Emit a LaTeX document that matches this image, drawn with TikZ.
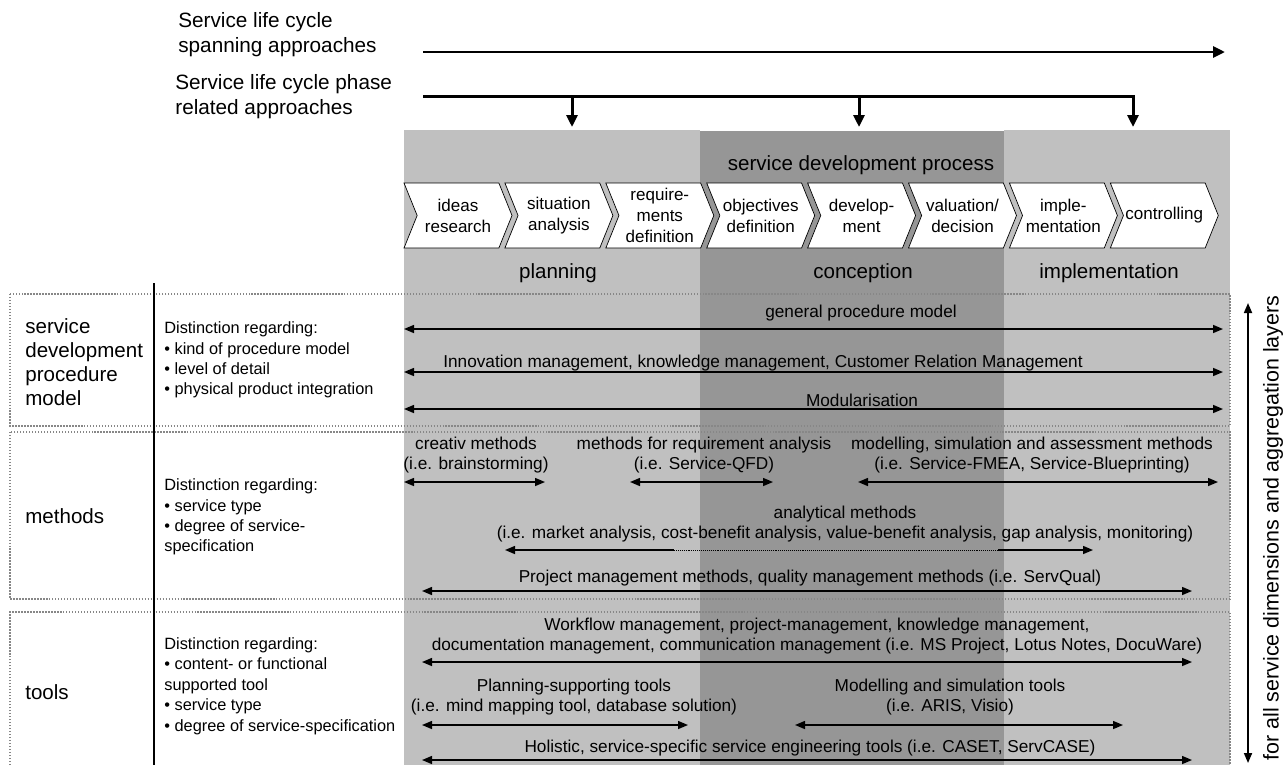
\documentclass[tikz,border=0pt]{standalone}
\usepackage{fontspec}
\setmainfont{Liberation Sans}
\usetikzlibrary{arrows.meta,shapes.symbols}
\definecolor{phaselight}{RGB}{192,192,192}
\definecolor{phasedark}{RGB}{150,150,150}
\definecolor{layerdots}{RGB}{135,135,135}
\newcommand\topfont{\fontsize{11.8}{14.2}\selectfont}
\newcommand\layerfont{\fontsize{11.7}{13.6}\selectfont}
\newcommand\distfont{\fontsize{9.3}{11.6}\selectfont}
\newcommand\chevfont{\fontsize{9.7}{11.9}\selectfont}
\newcommand\arrowfont{\fontsize{9.8}{11.9}\selectfont}
\begin{document}
\begin{tikzpicture}[x=0.02cm, y=-0.02cm,
    chev/.style={draw, fill=white, signal, signal from=west, signal to=east,
                 signal pointer angle=136, minimum width=2.16cm, minimum height=1.3cm,
                 inner sep=0pt, align=center, font=\chevfont},
    lbl/.style={align=center, font=\arrowfont, inner sep=0pt},
    layerbox/.style={draw=layerdots, line width=0.8pt, dash pattern=on 0.8pt off 0.9pt},
    span/.style={line width=1.7pt, line join=miter, -{Triangle[length=2.4mm,width=2.2mm]}},
    dbl/.style={<->, line width=0.85pt},
    >={Triangle[length=2mm,width=1.6mm]}
]
\useasboundingbox (0,0) rectangle (1287,765);

% phase backgrounds
\fill[phaselight] (404,130) rectangle (700,765);
\fill[phasedark] (700,131) rectangle (1004,765);
\fill[phaselight] (1004,130) rectangle (1230,765);

% life cycle approaches
\node[anchor=west, align=left, font=\topfont, inner sep=0pt] (spanning) at (178,35) {Service life cycle\\spanning approaches};
\node[anchor=west, align=left, font=\topfont, inner sep=0pt] (phaserel) at (175,97) {Service life cycle phase\\related approaches};
\draw[span] (423,52) -- (1225,52);
\draw[span] (423,96) -| (1133,127);
\draw[span] (572,96) -- (572,127);
\draw[span] (859,96) -- (859,127);

% process steps
\node[font=\layerfont] (sdp) at (861,165) {service development process};
\foreach \txt [count=\i from 0] in {{ideas\\research}, {situation\\analysis},
    {require-\\ments\\definition}, {objectives\\definition}, {develop-\\ment},
    {valuation/\\decision}, {imple-\\mentation}, {controlling}}
  \node[chev] (step\i) at ({458+100.9*\i},215.5) {\txt};

\node[font=\layerfont] (planning) at (558,273) {planning};
\node[font=\layerfont] (conception) at (863,273) {conception};
\node[font=\layerfont] (implementation) at (1109,273) {implementation};

% layers
\draw[layerbox] (10,294) rectangle (1230,426);
\draw[layerbox] (10,432) rectangle (1230,599);
\draw[layerbox] (10,765) -- (10,612) -- (1230,612) -- (1230,765);
\draw[line width=0.8pt] (154,283) -- (154,765);

\node[anchor=west, align=left, font=\layerfont, inner sep=0pt] (procmodel) at (25,362) {service\\development\\procedure\\model};
\node[anchor=west, font=\layerfont, inner sep=0pt] (methods) at (25,516) {methods};
\node[anchor=west, font=\layerfont, inner sep=0pt] (tools) at (25,692) {tools};

\node[anchor=west, align=left, font=\distfont, inner sep=0pt] (distproc) at (164,360) {Distinction regarding:\\• kind of procedure model\\• level of detail\\• physical product integration};
\node[anchor=west, align=left, font=\distfont, inner sep=0pt] (distmeth) at (164,517) {Distinction regarding:\\• service type\\• degree of service-\\specification};
\node[anchor=west, align=left, font=\distfont, inner sep=0pt] (disttool) at (164,686) {Distinction regarding:\\• content- or functional\\supported tool\\• service type\\• degree of service-specification};

% procedure model row
\node[lbl] (general) at (861,313) {general procedure model};
\draw[dbl] (404,329) -- (1223,329);
\node[lbl] (innovation) at (763,363) {Innovation management, knowledge management, Customer Relation Management};
\draw[dbl] (404,372) -- (1223,372);
\node[lbl] (modular) at (862,400) {Modularisation};
\draw[dbl] (404,409) -- (1223,409);

% methods row
\node[lbl] (creativ) at (476,455) {creativ methods\\(i.e. brainstorming)};
\draw[dbl] (404,482) -- (545,482);
\node[lbl] (reqan) at (704,455) {methods for requirement analysis\\(i.e. Service-QFD)};
\draw[dbl] (630,482) -- (773,482);
\node[lbl] (modsim) at (1032,455) {modelling, simulation and assessment methods\\(i.e. Service-FMEA, Service-Blueprinting)};
\draw[dbl] (858,482) -- (1218,482);
\node[lbl] (analytical) at (845,524) {analytical methods\\(i.e. market analysis, cost-benefit analysis, value-benefit analysis, gap analysis, monitoring)};
\draw[<-, line width=0.85pt] (505,550) -- (674,550);
\draw[line width=0.5pt, dash pattern=on 0.5pt off 0.6pt] (674,550) -- (998,550);
\draw[->, line width=0.85pt] (998,550) -- (1093,550);
\node[lbl] (projmeth) at (810,578) {Project management methods, quality management methods (i.e. ServQual)};
\draw[dbl] (422,591) -- (1192,591);

% tools row
\node[lbl] (workflow) at (817,636) {Workflow management, project-management, knowledge management,\\documentation management, communication management (i.e. MS Project, Lotus Notes, DocuWare)};
\draw[dbl] (422,662) -- (1192,662);
\node[lbl] (plantools) at (574,697) {Planning-supporting tools\\(i.e. mind mapping tool, database solution)};
\draw[dbl] (422,725) -- (688,725);
\node[lbl] (simtools) at (950,697) {Modelling and simulation tools\\(i.e. ARIS, Visio)};
\draw[dbl] (795,725) -- (1123,725);
\node[lbl] (holistic) at (810,748) {Holistic, service-specific service engineering tools (i.e. CASET, ServCASE)};
\draw[dbl] (422,760) -- (1192,760);

% all layers
\draw[dbl, line width=1pt] (1248,303) -- (1248,763);
\node[rotate=90, font=\fontsize{12.2}{14}\selectfont] (alllayers) at (1273,528) {for all service dimensions and aggregation layers};
\end{tikzpicture}
\end{document}
